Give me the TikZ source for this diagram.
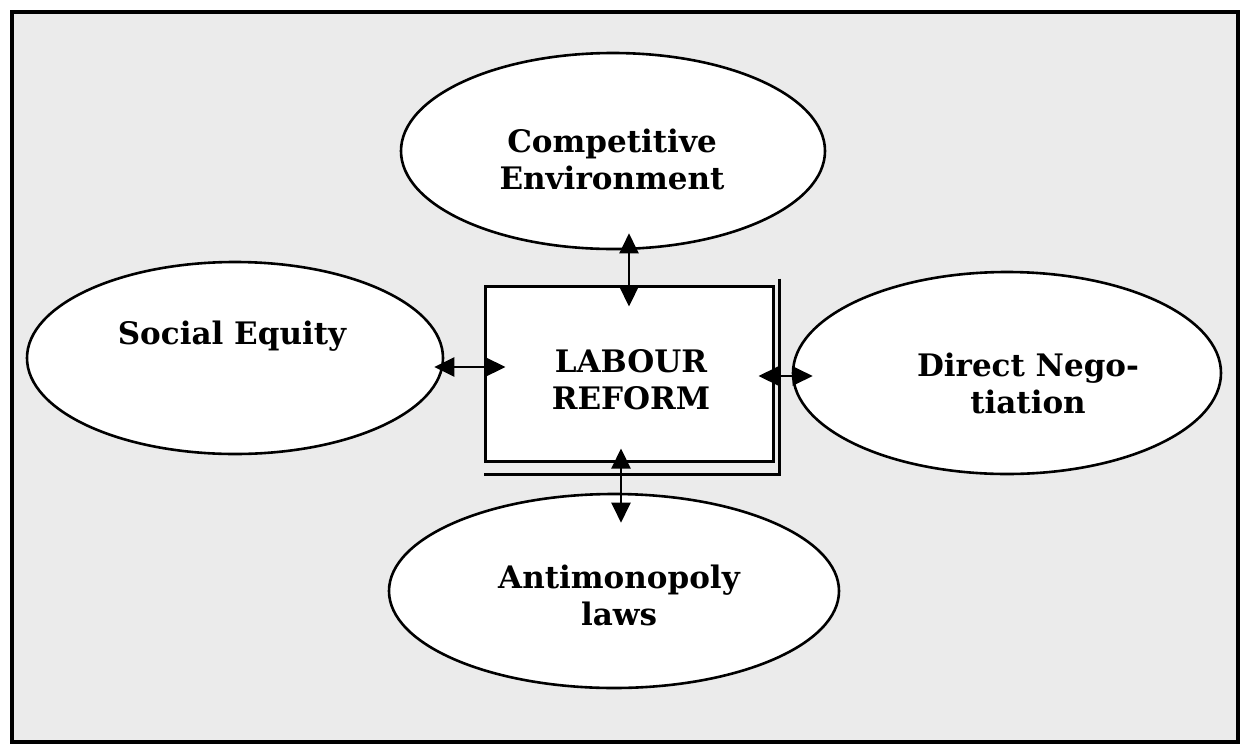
\documentclass[tikz,border=0pt]{standalone}
\usepackage{fontspec}
\setmainfont{DejaVu Serif}
\usetikzlibrary{shapes.geometric,arrows.meta,calc}
\begin{document}
\begin{tikzpicture}[x=1pt,y=-1pt,
  bub/.style={draw, ellipse, line width=2.6pt, fill=white, inner sep=0pt},
  lbl/.style={font=\bfseries\fontsize{31}{37}\selectfont, align=center, inner sep=0pt},
  dbl/.style={{Triangle[length=20pt,width=19pt]}-{Triangle[length=20pt,width=19pt]}, line width=2.2pt},
  boxst/.style={draw, fill=white, line width=3pt, inner sep=0pt}
]
\useasboundingbox (0,0) rectangle (1245,753);
% outer frame with light textured background
\node[draw, line width=3.4pt, fill=black!8, minimum width=1226pt, minimum height=730pt, inner sep=0pt] (frame) at (625,377) {};

% ellipses
\node[bub, minimum width=424pt, minimum height=196pt] (ce) at (613,151) {};
\node[bub, minimum width=416pt, minimum height=192pt] (se) at (235,358) {};
\node[bub, minimum width=428pt, minimum height=202pt] (dn) at (1007,373) {};
\node[bub, minimum width=450pt, minimum height=194pt] (am) at (614,591) {};

% central box with offset frame line
\node[boxst, minimum width=288pt, minimum height=175pt] (lr) at (629,373.5) {};
\draw[line width=2.6pt] ($(lr.north east)+(5,-6)$) -- ($(lr.south east)+(5,12)$) -- ($(lr.south west)+(0,12)$);

% texts
\node[lbl] (tce) at (612,159) {Competitive\\Environment};
\node[lbl] (tse) at (232,336) {Social Equity};
\node[lbl] (tlr) at (631,380) {LABOUR\\REFORM};
\node[lbl] (tdn) at (1028,383) {Direct Nego-\\tiation};
\node[lbl] (tam) at (619,595) {Antimonopoly\\laws};

% connectors
\draw[dbl, shorten <=-17pt, shorten >=-22pt] (ce.south -| lr.north) -- (lr.north);
\draw[dbl, shorten <=-10pt, shorten >=-22pt] ([yshift=-9pt]se.east) -- ([yshift=6.5pt]lr.west);
\draw[dbl, shorten <=-16pt, shorten >=-21pt] ([yshift=-2.5pt]lr.east) -- ([yshift=-3pt]dn.west);
\draw[dbl, shorten <=-14pt, shorten >=-30pt] ([xshift=-8pt]lr.south) -- ([xshift=7pt]am.north);
\end{tikzpicture}
\end{document}
